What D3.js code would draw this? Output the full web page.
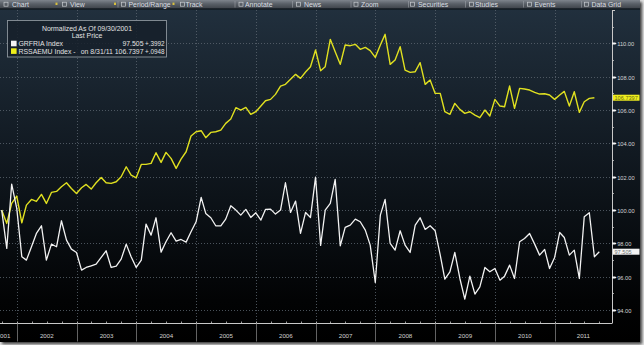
<!DOCTYPE html>
<html>
<head>
<meta charset="utf-8">
<script src="https://cdn.jsdelivr.net/npm/d3@7"></script>
<style>
  html, body { margin: 0; padding: 0; background: #e4e4e4; }
  svg { display: block; font-family: "Liberation Sans", Arial, sans-serif; }
</style>
</head>
<body>
<svg id="chart" width="644" height="345"></svg>
<script>
// ---- data: month-end closes, normalized to 100 at 09/30/2001 ----
const firstMonthEnd = [2001, 9];            // Sep 2001
const grfriaName = "GRFRIA Index";
const grfriaLast = "97.505";
const grfriaChange = "+.3992";
const grfriaValues = [
  100.0, 97.7, 101.56, 100.1, 97.2, 97.0, 97.8, 98.6, 99.06, 97.0,
  97.96, 97.8, 99.36, 98.2, 97.66, 97.46, 96.4, 96.56, 96.66, 96.76,
  97.16, 97.56, 96.56, 96.64, 97.06, 97.96, 97.2, 96.56, 97.0, 99.16,
  98.5, 99.54, 97.48, 98.1, 98.64, 98.14, 98.24, 98.08, 98.7, 99.3,
  100.76, 99.8, 99.54, 99.06, 99.06, 99.46, 100.26, 100.0, 99.7, 100.04,
  99.56, 99.84, 99.4, 100.04, 100.06, 99.76, 100.0, 101.64, 99.86, 100.54,
  98.6, 99.86, 99.56, 101.98, 97.88, 100.0, 100.4, 101.84, 97.86, 98.96,
  99.1, 99.46, 99.3, 98.8, 97.9, 95.66, 99.7, 100.64, 98.0, 97.6,
  98.76, 97.9, 97.46, 99.1, 99.54, 98.84, 99.06, 98.76, 97.3, 95.86,
  96.3, 97.46, 95.9, 94.66, 96.04, 94.96, 95.4, 96.56, 96.3, 96.5,
  95.8, 96.04, 96.7, 95.9, 98.1, 98.3, 98.6, 97.96, 97.3, 97.64,
  96.5, 97.16, 98.66, 98.36, 97.3, 97.6, 95.9, 99.6, 99.84, 97.2,
  97.505
];
const rssaemuName = "RSSAEMU Index -";
const rssaemuAsOf = "on 8/31/11";
const rssaemuLast = "106.7397";
const rssaemuChange = "+.0948";
const rssaemuValues = [
  100.0, 99.2, 100.4, 100.84, 99.24, 100.3, 100.64, 100.52, 100.94, 100.4,
  101.06, 101.12, 101.4, 101.64, 101.3, 101.0, 101.34, 101.54, 101.26, 101.64,
  101.96, 101.64, 101.6, 101.7, 102.0, 102.6, 102.1, 101.94, 102.74, 102.74,
  102.8, 103.44, 102.86, 103.46, 103.1, 102.5, 103.06, 103.5, 104.44, 104.7,
  104.76, 104.34, 104.66, 104.7, 104.8, 105.2, 105.46, 106.14, 106.0, 106.16,
  105.74, 105.9, 106.24, 106.56, 106.64, 106.94, 107.44, 107.54, 107.84, 108.14,
  107.9, 108.28, 108.6, 109.6, 108.36, 108.6, 110.24, 109.5, 108.74, 109.9,
  109.86, 109.94, 109.64, 109.76, 109.56, 109.16, 109.9, 110.54, 108.74, 109.0,
  109.8, 108.4, 108.26, 108.3, 108.84, 107.54, 107.8, 107.0, 107.0, 105.9,
  105.74, 106.4, 106.04, 105.8, 105.9, 105.7, 105.54, 106.0, 105.64, 106.64,
  106.24, 106.2, 107.44, 106.1, 107.3, 107.26, 107.2, 107.06, 106.96, 106.98,
  106.9, 106.64, 106.9, 107.12, 106.24, 107.1, 105.86, 106.5, 106.7, 106.7397
];
const yearLabels = [2001, 2002, 2003, 2004, 2005, 2006, 2007, 2008, 2009, 2010, 2011];
const yMajorTicks = [94, 96, 98, 100, 102, 104, 106, 108, 110];
const yMinorTicks = [95, 97, 99, 101, 103, 105, 107, 109, 111];
const legendTitle = ["Normalized As Of 09/30/2001", "Last Price"];
const toolbarLabels = ["Chart", "View", "Period/Range", "Track", "Annotate", "News",
                       "Zoom", "Securities", "Studies", "Events", "Data Grid"];

// ---- layout ----
const panel = { x: 0, y: 0, w: 640, h: 342 };
const toolbarH = 8.5;
const plot = { left: -10, right: 612, top: 10, bottom: 323.5 };
const toolbarTextX = [12, 70, 128.5, 185.5, 245, 304, 361, 418, 475, 534.5, 591.5];
const toolbarIconX = [4, 62.5, 121.5, 180.5, 239, 296.5, 354, 410.5, 469.5, 527.5, 584.5];
const toolbarSepX = [118, 235, 292.5, 351, 408.5, 465.5, 523.5, 581.5];
const toolbarDropX = [56.5, 115, 173.5];

const monthEnd = i => new Date(firstMonthEnd[0], firstMonthEnd[1] + i, 0);
const grfria = grfriaValues.map((v, i) => ({ date: monthEnd(i), value: v }));
const rssaemu = rssaemuValues.map((v, i) => ({ date: monthEnd(i), value: v }));

const x = d3.scaleTime()
  .domain([monthEnd(0), monthEnd(grfriaValues.length - 1)])
  .range([1.7, 599.3]);
const y = d3.scaleLinear().domain([93.2, 112]).range([plot.bottom, plot.top]);

const svg = d3.select("#chart");
const defs = svg.append("defs");

const bg = defs.append("linearGradient").attr("id", "panelBg")
  .attr("x1", 0).attr("y1", 0).attr("x2", 0).attr("y2", 1);
bg.append("stop").attr("offset", "0%").attr("stop-color", "#22313f");
bg.append("stop").attr("offset", "45%").attr("stop-color", "#111921");
bg.append("stop").attr("offset", "88%").attr("stop-color", "#020304");
bg.append("stop").attr("offset", "100%").attr("stop-color", "#000000");

const tb = defs.append("linearGradient").attr("id", "toolbarBg")
  .attr("x1", 0).attr("y1", 0).attr("x2", 0).attr("y2", 1);
tb.append("stop").attr("offset", "0%").attr("stop-color", "#7e848c");
tb.append("stop").attr("offset", "45%").attr("stop-color", "#5a6068");
tb.append("stop").attr("offset", "100%").attr("stop-color", "#3e434a");

defs.append("filter").attr("id", "shadow").attr("x", "-5%").attr("y", "-5%")
  .attr("width", "110%").attr("height", "110%")
  .append("feGaussianBlur").attr("stdDeviation", 1.5);

defs.append("clipPath").attr("id", "plotClip")
  .append("rect").attr("x", 0).attr("y", plot.top)
  .attr("width", plot.right).attr("height", plot.bottom - plot.top);

// drop shadow and panel
svg.append("rect").attr("x", panel.x + 2).attr("y", panel.y + 2)
  .attr("width", panel.w).attr("height", panel.h)
  .attr("fill", "#3a3a3a").attr("filter", "url(#shadow)");
svg.append("rect").attr("x", panel.x).attr("y", panel.y)
  .attr("width", panel.w).attr("height", panel.h).attr("fill", "url(#panelBg)");

// toolbar
svg.append("rect").attr("x", 0).attr("y", 0).attr("width", panel.w)
  .attr("height", toolbarH).attr("fill", "url(#toolbarBg)");
svg.append("line").attr("x1", 0).attr("x2", panel.w)
  .attr("y1", toolbarH + 0.5).attr("y2", toolbarH + 0.5)
  .attr("stroke", "#0c1014").attr("stroke-width", 1);
const tbar = svg.append("g");
tbar.selectAll("text").data(toolbarLabels).join("text")
  .attr("x", (d, i) => toolbarTextX[i]).attr("y", 6.5)
  .attr("font-size", 6.9).attr("fill", "#dadee2").text(d => d);
tbar.selectAll("rect.icon").data(toolbarLabels).join("rect").attr("class", "icon")
  .attr("x", (d, i) => toolbarIconX[i]).attr("y", 2.2)
  .attr("width", 4).attr("height", 4)
  .attr("fill", "none").attr("stroke", "#c8ccd0").attr("stroke-width", 0.7);
tbar.selectAll("line.sep").data(toolbarSepX).join("line").attr("class", "sep")
  .attr("x1", d => d).attr("x2", d => d).attr("y1", 1).attr("y2", 7.5)
  .attr("stroke", "#9aa0a6").attr("stroke-width", 0.6);
tbar.selectAll("rect.drop").data(toolbarDropX).join("rect").attr("class", "drop")
  .attr("x", d => d - 1).attr("y", 2.6).attr("width", 2).attr("height", 2.4)
  .attr("fill", "#d8c040");

// gridlines
const grid = svg.append("g").attr("stroke", "#5c6670").attr("stroke-width", 0.8)
  .attr("stroke-dasharray", "1,2");
grid.selectAll("line.h").data(yMajorTicks).join("line").attr("class", "h")
  .attr("x1", 0).attr("x2", plot.right)
  .attr("y1", d => Math.round(y(d)) + 0.5).attr("y2", d => Math.round(y(d)) + 0.5);
const xLeftDate = x.invert(plot.left), xRightDate = x.invert(plot.right);
const yearStarts = d3.timeYear.range(d3.timeYear.ceil(xLeftDate), xRightDate);
grid.selectAll("line.v").data(yearStarts).join("line").attr("class", "v")
  .attr("x1", d => Math.round(x(d)) + 0.5).attr("x2", d => Math.round(x(d)) + 0.5)
  .attr("y1", plot.top).attr("y2", plot.bottom);

// series
const line = d3.line().x(d => x(d.date)).y(d => y(d.value));
const lines = svg.append("g").attr("clip-path", "url(#plotClip)");
lines.append("path").datum(rssaemu).attr("d", line)
  .attr("fill", "none").attr("stroke", "#e0e020").attr("stroke-width", 1.4)
  .attr("stroke-linejoin", "round");
lines.append("path").datum(grfria).attr("d", line)
  .attr("fill", "none").attr("stroke", "#f2f2f2").attr("stroke-width", 1.3)
  .attr("stroke-linejoin", "round");

// bottom axis
const axisColor = "#c8c8c8";
svg.append("line").attr("x1", 0).attr("x2", plot.right)
  .attr("y1", plot.bottom).attr("y2", plot.bottom)
  .attr("stroke", axisColor).attr("stroke-width", 1);
const quarters = d3.timeMonth.every(3).range(d3.timeMonth.ceil(xLeftDate), xRightDate);
svg.append("g").selectAll("line").data(quarters).join("line")
  .attr("x1", d => Math.round(x(d)) + 0.5).attr("x2", d => Math.round(x(d)) + 0.5)
  .attr("y1", plot.bottom - 2).attr("y2", plot.bottom)
  .attr("stroke", axisColor).attr("stroke-width", 0.8);
svg.append("g").selectAll("line").data(yearStarts).join("line")
  .attr("x1", d => Math.round(x(d)) + 0.5).attr("x2", d => Math.round(x(d)) + 0.5)
  .attr("y1", plot.bottom).attr("y2", panel.h - 0.5)
  .attr("stroke", "#6e6e6e").attr("stroke-width", 0.9);
svg.append("g").selectAll("text").data(yearLabels).join("text")
  .attr("x", d => {
    const a = Math.max(x(new Date(d, 0, 1)), plot.left);
    const b = Math.min(x(new Date(d + 1, 0, 1)), plot.right);
    return (a + b) / 2;
  })
  .attr("y", 337.5).attr("text-anchor", "middle")
  .attr("font-size", 6.2).attr("fill", "#d0d0d0").text(d => d);

// right axis
svg.append("line").attr("x1", plot.right + 0.5).attr("x2", plot.right + 0.5)
  .attr("y1", plot.top).attr("y2", plot.bottom)
  .attr("stroke", axisColor).attr("stroke-width", 1);
svg.append("line").attr("x1", plot.right).attr("x2", plot.right + 3)
  .attr("y1", plot.top + 0.5).attr("y2", plot.top + 0.5)
  .attr("stroke", axisColor).attr("stroke-width", 1);
svg.append("g").selectAll("line").data(yMinorTicks.filter(v => y(v) > plot.top)).join("line")
  .attr("x1", plot.right).attr("x2", plot.right + 2)
  .attr("y1", d => Math.round(y(d)) + 0.5).attr("y2", d => Math.round(y(d)) + 0.5)
  .attr("stroke", axisColor).attr("stroke-width", 0.8);
const yt = svg.append("g").selectAll("g").data(yMajorTicks).join("g")
  .attr("transform", d => `translate(${plot.right},${Math.round(y(d)) + 0.5})`);
yt.append("path").attr("d", "M0,-1.1H3.2L4.6,0L3.2,1.1H0Z").attr("fill", "#f4f4f4");
yt.append("text").attr("x", 5.2).attr("y", 2).attr("font-size", 5.7)
  .attr("fill", "#d4d4d4").text(d => d3.format(".2f")(d));

// last-value tags on the axis
function valueTag(value, label, fill, textFill) {
  const g = svg.append("g").attr("transform", `translate(${plot.right + 1},${y(value)})`);
  g.append("rect").attr("x", 0).attr("y", -3).attr("width", 26.5).attr("height", 6)
    .attr("fill", fill);
  g.append("text").attr("x", 1.5).attr("y", 2).attr("font-size", 5.6)
    .attr("fill", textFill).text(label);
}
valueTag(rssaemuValues[rssaemuValues.length - 1], rssaemuLast, "#f0ee1e", "#6a6a10");
valueTag(grfriaValues[grfriaValues.length - 1], grfriaLast, "#f4f4f4", "#707070");

// legend
const lg = svg.append("g");
lg.append("rect").attr("x", 7.5).attr("y", 20.5).attr("width", 159).attr("height", 36.5)
  .attr("fill", "#16202a").attr("fill-opacity", 0.85)
  .attr("stroke", "#8c949c").attr("stroke-width", 0.9);
lg.selectAll("text.title").data(legendTitle).join("text").attr("class", "title")
  .attr("x", 87).attr("y", (d, i) => 30.8 + i * 7.4).attr("text-anchor", "middle")
  .attr("font-size", 6.9).attr("fill", "#e2e2e2").text(d => d);
const rows = [
  { color: "#f4f4f4", name: grfriaName, last: grfriaLast, change: grfriaChange },
  { color: "#eeee1a", name: rssaemuName, last: rssaemuAsOf + " " + rssaemuLast, change: rssaemuChange }
];
const row = lg.selectAll("g.row").data(rows).join("g").attr("class", "row")
  .attr("transform", (d, i) => `translate(0,${46.1 + i * 7.6})`);
row.append("rect").attr("x", 11).attr("y", -5.4).attr("width", 5.6).attr("height", 5.6)
  .attr("fill", d => d.color);
row.append("text").attr("x", 18.5).attr("font-size", 6.9).attr("fill", "#e2e2e2")
  .text(d => d.name);
row.append("text").attr("x", 143.5).attr("text-anchor", "end").attr("font-size", 6.9)
  .attr("fill", "#e2e2e2").text(d => d.last);
row.append("text").attr("x", 164.5).attr("text-anchor", "end").attr("font-size", 6.3)
  .attr("fill", "#e2e2e2").text(d => d.change);
</script>
</body>
</html>
